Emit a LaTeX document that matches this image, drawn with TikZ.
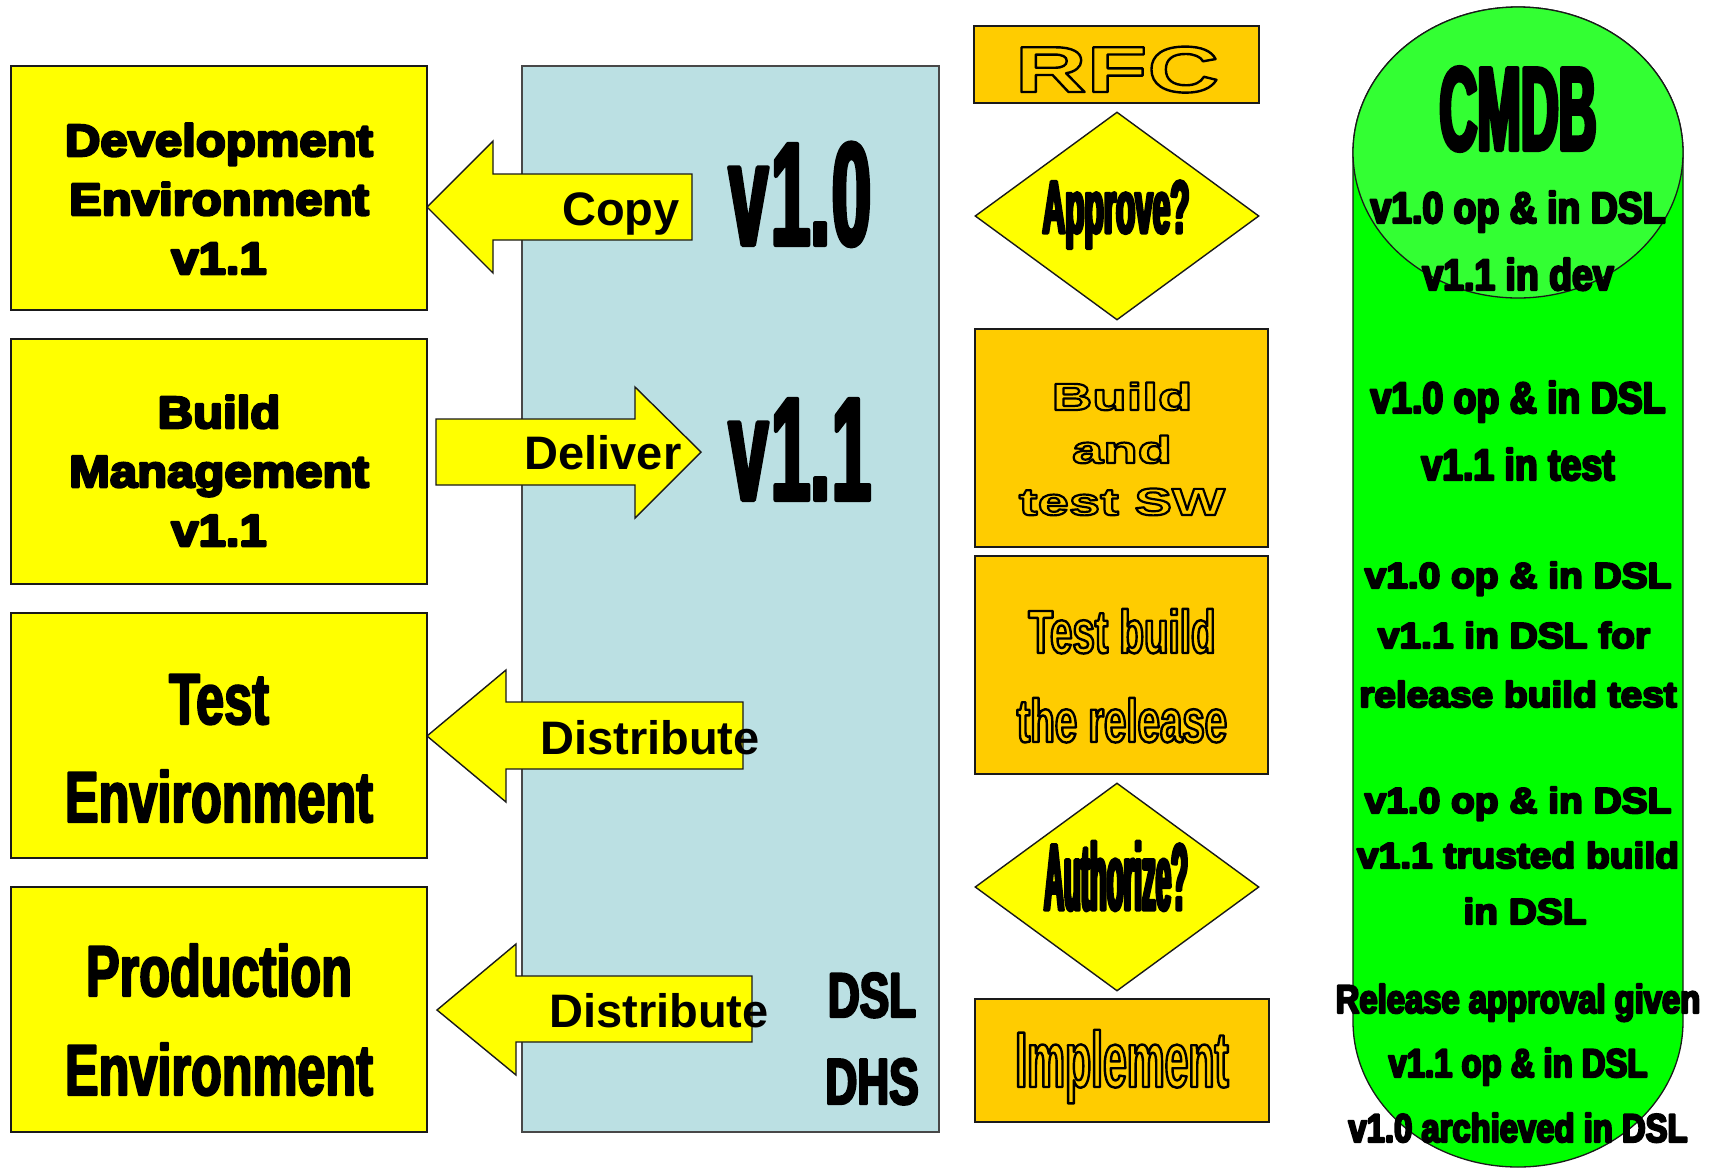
\documentclass[tikz,border=0pt]{standalone}
\usepackage{fontspec}
\usetikzlibrary{shapes.geometric}
\setmainfont{Liberation Sans}

\definecolor{ybox}{HTML}{FFFF00}
\definecolor{gold}{HTML}{FFCC00}
\definecolor{dslblue}{HTML}{BBE0E3}
\definecolor{cmdbbody}{HTML}{00FF00}
\definecolor{cmdbtop}{HTML}{33FF33}
\definecolor{edge}{HTML}{1A1A1A}

% bold sans, horizontally scaled: stretch, size
\newcommand\fS[2]{\fontspec{Liberation Sans Bold}[FakeStretch=#1]\fontsize{#2}{#2}\selectfont}
% plain bold
\newcommand\fP[1]{\fontspec{Liberation Sans Bold}\fontsize{#1}{#1}\selectfont}
% extra weight: fill and stroke the glyphs with a round pen #1 bp wide
\newcommand\heavy[2]{\special{pdf:literal direct 1 j 2 Tr #1 w}#2\special{pdf:literal direct 0 Tr 0 j}}
% gold lettering with a black outline drawn by a round pen #1 bp wide
\newcommand\hollow[2]{\textcolor{gold}{\special{pdf:literal direct 0 G 1 j 2 Tr #1 w}#2\special{pdf:literal direct 0 Tr 0 j}}}

\begin{document}
\begin{tikzpicture}[x=1pt,y=-1pt,
  ybox/.style={draw=edge, line width=1.6pt, fill=ybox, inner sep=0pt},
  gbox/.style={draw=edge, line width=1.6pt, fill=gold, inner sep=0pt},
  dia/.style={diamond, draw=edge, line width=1.4pt, fill=ybox, inner sep=0pt},
  barrow/.style={draw=edge, line width=1.4pt, fill=ybox, line join=miter},
  txt/.style={inner sep=0pt, anchor=base}]

\useasboundingbox (0,0) rectangle (1717,1168);
\fill[white] (0,0) rectangle (1717,1168);

% DSL / DHS store
\node[draw=edge!80, line width=1.4pt, fill=dslblue, inner sep=0pt,
      minimum width=417pt, minimum height=1066pt] (dsl) at (730.5,599) {};

% environments
\node[ybox, minimum width=416pt, minimum height=244pt] (dev)  at (219,188) {};
\node[ybox, minimum width=416pt, minimum height=245pt] (bm)   at (219,461.5) {};
\node[ybox, minimum width=416pt, minimum height=245pt] (test) at (219,735.5) {};
\node[ybox, minimum width=416pt, minimum height=245pt] (prod) at (219,1009.5) {};

\node[txt, font=\fS{1.09}{45}] (dev1) at (219,156) {\heavy{2.6}{Development}};
\node[txt, font=\fS{1.09}{45}] (dev2) at (219,215) {\heavy{2.6}{Environment}};
\node[txt, font=\fS{1.09}{45}] (dev3) at (219,274) {\heavy{2.6}{v1.1}};
\node[txt, font=\fS{1.09}{45}] (bm1) at (219,428) {\heavy{2.6}{Build}};
\node[txt, font=\fS{1.09}{45}] (bm2) at (219,487) {\heavy{2.6}{Management}};
\node[txt, font=\fS{1.09}{45}] (bm3) at (219,546) {\heavy{2.6}{v1.1}};
\node[txt, font=\fS{0.70}{72}] (te1) at (219,724) {\heavy{2}{Test}};
\node[txt, font=\fS{0.70}{72}] (te2) at (219,822) {\heavy{2}{Environment}};
\node[txt, font=\fS{0.70}{72}] (pe1) at (219,996) {\heavy{2}{Production}};
\node[txt, font=\fS{0.70}{72}] (pe2) at (219,1095) {\heavy{2}{Environment}};

% block arrows
\draw[barrow] (427,207) -- (493,141) -- (493,174) -- (692,174) -- (692,240) -- (493,240) -- (493,273) -- cycle;
\draw[barrow] (701,452) -- (635,387) -- (635,419) -- (436,419) -- (436,485) -- (635,485) -- (635,518) -- cycle;
\draw[barrow] (427,736) -- (506,670) -- (506,702) -- (743,702) -- (743,769) -- (506,769) -- (506,802) -- cycle;
\draw[barrow] (437,1010) -- (516,944) -- (516,976) -- (752,976) -- (752,1042) -- (516,1042) -- (516,1075) -- cycle;

\node[txt, font=\fP{47}] (copy) at (621,225) {Copy};
\node[txt, font=\fP{47}] (deliver) at (603,469) {Deliver};
\node[txt, font=\fP{47}] (dist1) at (650,754) {Distribute};
\node[txt, font=\fP{47}] (dist2) at (659,1027) {Distribute};

\node[txt, font=\fS{0.48}{147}] (v10) at (800,245) {\heavy{4}{v\kern3pt1.\kern2pt0}};
\node[txt, font=\fS{0.48}{147}] (v11) at (800,500) {\heavy{4}{v\kern3pt1.\kern2pt1}};
\node[txt, font=\fS{0.70}{63}] (dsltxt) at (872,1017) {\heavy{2.4}{DSL}};
\node[txt, font=\fS{0.68}{65}] (dhstxt) at (872,1104) {\heavy{2.4}{DHS}};

% change process
\node[gbox, minimum width=285pt, minimum height=77pt] (rfc) at (1116.5,64.5) {};
\node[dia, minimum width=284pt, minimum height=208pt] (approve) at (1117,216) {};
\node[gbox, minimum width=293pt, minimum height=218pt] (build) at (1121.5,438) {};
\node[gbox, minimum width=293pt, minimum height=218pt] (tbuild) at (1121.5,665) {};
\node[dia, minimum width=284pt, minimum height=208pt] (auth) at (1117,887) {};
\node[gbox, minimum width=294pt, minimum height=123pt] (impl) at (1122,1060.5) {};

\node[txt, font=\fS{1.53}{65}] (rfctxt) at (1117,92) {\hollow{2.4}{RFC}};
\node[txt, font=\fS{0.42}{75}] (apptxt) at (1116,233) {\heavy{3}{Approve?}};
\node[txt, font=\fS{1.48}{38}] (b1) at (1122,410) {\hollow{2.2}{Build}};
\node[txt, font=\fS{1.48}{38}] (b2) at (1122,463) {\hollow{2.2}{and}};
\node[txt, font=\fS{1.48}{38}] (b3) at (1122,515) {\hollow{2.2}{test SW}};
\node[txt, font=\fS{0.66}{61}] (t1) at (1122,653) {\hollow{2.4}{Test build}};
\node[txt, font=\fS{0.66}{61}] (t2) at (1122,742) {\hollow{2.4}{the release}};
\node[txt, font=\fS{0.29}{95}] (authtxt) at (1116,910) {\heavy{3.2}{Authorize?}};
\node[txt, font=\fS{0.54}{79}] (impltxt) at (1122,1087) {\hollow{2.4}{Implement}};

% CMDB cylinder
\draw[draw=edge, line width=1.3pt, fill=cmdbbody]
  (1353,152.5) arc[start angle=180, end angle=360, x radius=165, y radius=145.5]
  -- (1683,1021.5) arc[start angle=0, end angle=180, x radius=165, y radius=145.5]
  -- cycle;
\draw[draw=edge, line width=1.3pt, fill=cmdbtop] (1518,152.5) ellipse[x radius=165, y radius=145.5];

\node[txt, font=\fS{0.44}{119}] (cmdb) at (1518,150) {\heavy{4}{CMDB}};
\node[txt, font=\fS{0.85}{44}] (c1a) at (1518,223) {\heavy{2.4}{v1.0 op \& in DSL}};
\node[txt, font=\fS{0.85}{44}] (c1b) at (1518,290) {\heavy{2.4}{v1.1 in dev}};
\node[txt, font=\fS{0.85}{44}] (c2a) at (1518,413) {\heavy{2.4}{v1.0 op \& in DSL}};
\node[txt, font=\fS{0.85}{44}] (c2b) at (1518,480) {\heavy{2.4}{v1.1 in test}};
\node[txt, font=\fS{1.08}{36}] (c3a) at (1518,588) {\heavy{2.2}{v1.0 op \& in DSL}};
\node[txt, font=\fS{1.08}{36}] (c3b) at (1514,648) {\heavy{2.2}{v1.1 in DSL for}};
\node[txt, font=\fS{1.08}{36}] (c3c) at (1518,707) {\heavy{2.2}{release build test}};
\node[txt, font=\fS{1.08}{36}] (c4a) at (1518,813) {\heavy{2.2}{v1.0 op \& in DSL}};
\node[txt, font=\fS{1.08}{36}] (c4b) at (1518,868) {\heavy{2.2}{v1.1 trusted build}};
\node[txt, font=\fS{1.08}{36}] (c4c) at (1525,924) {\heavy{2.2}{in DSL}};
\node[txt, font=\fS{0.82}{40}] (c5a) at (1518,1013) {\heavy{2.2}{Release approval given}};
\node[txt, font=\fS{0.82}{40}] (c5b) at (1518,1077) {\heavy{2.2}{v1.1 op \& in DSL}};
\node[txt, font=\fS{0.82}{40}] (c5c) at (1518,1142) {\heavy{2.2}{v1.0 archieved in DSL}};
\end{tikzpicture}
\end{document}
